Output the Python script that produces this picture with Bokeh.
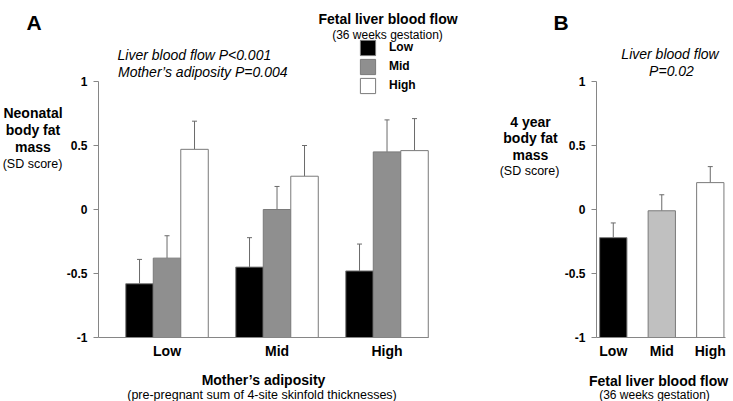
from bokeh.plotting import figure
from bokeh.models import (Range1d, FixedTicker, CustomJSTickFormatter, NumeralTickFormatter,
                          Label, Whisker, TeeHead, ColumnDataSource, LinearAxis)
from bokeh.embed import file_html
from bokeh.resources import INLINE

FONT = "Liberation Sans"
AXIS_C = "#868686"
EDGE_C = "#7a7a7a"
ERR_C = "#6a6a6a"

# ---------------- data ----------------
adiposity_groups = ["Low", "Mid", "High"]   # mother's adiposity (panel A categories)
flow_levels = ["Low", "Mid", "High"]        # fetal liver blood flow
y_ticks = [-1, -0.5, 0, 0.5, 1]

# Panel A: neonatal body fat mass (SD score) by mother's adiposity, per liver-flow level
neonatal_low_flow = [-0.58, -0.45, -0.48]
neonatal_mid_flow = [-0.38, 0.00, 0.45]
neonatal_high_flow = [0.47, 0.26, 0.46]
neonatal_low_flow_se = [0.19, 0.23, 0.21]
neonatal_mid_flow_se = [0.175, 0.18, 0.25]
neonatal_high_flow_se = [0.22, 0.24, 0.25]

# Panel B: 4-year body fat mass (SD score) by fetal liver blood flow
year4_fat = [-0.22, -0.01, 0.21]
year4_fat_se = [0.115, 0.125, 0.125]

colors_A = ["#000000", "#8f8f8f", "#ffffff"]
colors_B = ["#000000", "#c0c0c0", "#ffffff"]

# ---------------- layout constants (pixels) ----------------
W, H = 733, 401
A_LEFT_PX, A_UNIT, A_X0 = 98, 110.0, 0.377     # panel A: frame-left px, px per category
B_LEFT_PX, B_UNIT, B_X0 = 596, 48.5, 0.654     # panel B
B_SPAN_PX = 129
TOP_PX, Y_UNIT = 81, 128.0                     # px of y=1, px per y unit

xa_start = A_X0 - A_LEFT_PX / A_UNIT
xa_end = A_X0 + (W - A_LEFT_PX) / A_UNIT
xb_start = B_X0 - B_LEFT_PX / B_UNIT
xb_end = B_X0 + (W - B_LEFT_PX) / B_UNIT
y_top = 1 + TOP_PX / Y_UNIT
y_bot = 1 - (H - TOP_PX) / Y_UNIT


def fx(px):
    return A_X0 + (px - A_LEFT_PX) / A_UNIT


def fy(py):
    return 1 - (py - TOP_PX) / Y_UNIT


p = figure(width=W, height=H, output_backend="svg", toolbar_location=None,
           x_range=Range1d(xa_start, xa_end), y_range=Range1d(y_bot, y_top),
           x_axis_type=None, y_axis_type=None,
           min_border_left=0, min_border_right=0, min_border_top=0, min_border_bottom=0)
p.extra_x_ranges = {"B": Range1d(xb_start, xb_end)}
p.outline_line_color = None
p.background_fill_color = "white"
p.border_fill_color = "white"


def make_axes(range_name, x0, x1, labels):
    ya = LinearAxis(x_range_name=range_name, fixed_location=x0, bounds=(-1, 1))
    ya.ticker = FixedTicker(ticks=y_ticks)
    ya.formatter = NumeralTickFormatter(format="0.[0]")
    ya.major_tick_out = 5
    ya.major_tick_in = 0
    ya.minor_tick_out = 0
    ya.minor_tick_in = 0
    ya.axis_line_color = AXIS_C
    ya.major_tick_line_color = AXIS_C
    ya.major_label_text_font = FONT
    ya.major_label_text_font_size = "12px"
    ya.major_label_text_font_style = "bold"
    ya.major_label_text_color = "black"
    ya.major_label_standoff = 6
    p.add_layout(ya, "left")

    xa = LinearAxis(x_range_name=range_name, fixed_location=-1, bounds=(x0, x1))
    xa.ticker = FixedTicker(ticks=[1, 2, 3])
    xa.formatter = CustomJSTickFormatter(args=dict(labels=labels),
                                         code="return labels[Math.round(tick) - 1];")
    xa.major_tick_out = 0
    xa.major_tick_in = 0
    xa.minor_tick_out = 0
    xa.minor_tick_in = 0
    xa.axis_line_color = AXIS_C
    xa.major_label_text_font = FONT
    xa.major_label_text_font_size = "14px"
    xa.major_label_text_font_style = "bold"
    xa.major_label_text_color = "black"
    xa.major_label_standoff = 5
    p.add_layout(xa, "below")


make_axes("default", A_X0, A_X0 + 330 / A_UNIT, adiposity_groups)
make_axes("B", B_X0, B_X0 + B_SPAN_PX / B_UNIT, flow_levels)


def add_text(x, y, text, size, style="normal", align="left"):
    p.add_layout(Label(x=x, y=y, text=text, text_font=FONT, text_font_size=size,
                       text_font_style=style, text_align=align,
                       text_baseline="alphabetic", text_color="black"))


# ---------------- Panel A bars ----------------
series_A = [(neonatal_low_flow, neonatal_low_flow_se),
            (neonatal_mid_flow, neonatal_mid_flow_se),
            (neonatal_high_flow, neonatal_high_flow_se)]
offsets = [-0.25, 0.0, 0.25]
for k, ((means, ses), off) in enumerate(zip(series_A, offsets)):
    xs = [i + 1 + off for i in range(len(adiposity_groups))]
    src = ColumnDataSource(dict(x=xs, mean=means,
                                upper=[m + s for m, s in zip(means, ses)]))
    p.vbar(x="x", top="mean", bottom=-1, width=0.25, source=src,
           fill_color=colors_A[k], line_color=EDGE_C, line_width=1,
           legend_label=flow_levels[k])
    p.add_layout(Whisker(source=src, base="x", lower="mean", upper="upper",
                         line_color=ERR_C, line_width=1, lower_head=None,
                         upper_head=TeeHead(size=5, line_color=ERR_C, line_width=1)))

leg = p.legend[0]
leg.location = (358, H - 94.6)
leg.glyph_width = 19
leg.glyph_height = 19
leg.label_height = 19
leg.spacing = 0
leg.padding = 0
leg.margin = 0
leg.label_standoff = 12
leg.label_text_font = FONT
leg.label_text_font_size = "12px"
leg.label_text_font_style = "bold"
leg.label_text_color = "black"
leg.border_line_color = None
leg.background_fill_alpha = 0

# ---------------- Panel B bars ----------------
srcB = ColumnDataSource(dict(x=[i + 1 for i in range(len(flow_levels))], mean=year4_fat,
                             upper=[m + s for m, s in zip(year4_fat, year4_fat_se)],
                             color=colors_B))
p.vbar(x="x", top="mean", bottom=-1, width=27.3 / B_UNIT, source=srcB,
       x_range_name="B", fill_color="color", line_color=EDGE_C, line_width=1)
p.add_layout(Whisker(source=srcB, base="x", lower="mean", upper="upper", x_range_name="B",
                     line_color=ERR_C, line_width=1, lower_head=None,
                     upper_head=TeeHead(size=5, line_color=ERR_C, line_width=1)))

# ---------------- texts ----------------
add_text(fx(26), fy(22), "A", "21px", "bold")
add_text(fx(387.5), fy(18.5), "Fetal liver blood flow", "14px", "bold", "center")
add_text(fx(387), fy(34), "(36 weeks gestation)", "12px", "normal", "center")
add_text(fx(117), fy(54), "Liver blood flow P<0.001", "14px", "italic")
add_text(fx(117.5), fy(71), "Mother\u2019s adiposity P=0.004", "14px", "italic")
add_text(fx(32.5), fy(112.5), "Neonatal", "14px", "bold", "center")
add_text(fx(32.5), fy(129), "body fat", "14px", "bold", "center")
add_text(fx(32.5), fy(146), "mass", "14px", "bold", "center")
add_text(fx(32), fy(163), "(SD score)", "12.5px", "normal", "center")
add_text(fx(263), fy(379.5), "Mother\u2019s adiposity", "14px", "bold", "center")
add_text(fx(261.5), fy(394), "(pre-pregnant sum of 4-site skinfold thicknesses)",
         "12.5px", "normal", "center")

add_text(fx(553), fy(22), "B", "21px", "bold")
add_text(fx(669.5), fy(53.5), "Liver blood flow", "14px", "italic", "center")
add_text(fx(671), fy(70), "P=0.02", "14px", "italic", "center")
add_text(fx(530), fy(121.5), "4 year", "14px", "bold", "center")
add_text(fx(530), fy(137.5), "body fat", "14px", "bold", "center")
add_text(fx(530), fy(154.5), "mass", "14px", "bold", "center")
add_text(fx(529), fy(170), "(SD score)", "12.5px", "normal", "center")
add_text(fx(658), fy(380), "Fetal liver blood flow", "14px", "bold", "center")
add_text(fx(654), fy(394), "(36 weeks gestation)", "12px", "normal", "center")

open("out.html", "w").write(file_html(p, INLINE))
